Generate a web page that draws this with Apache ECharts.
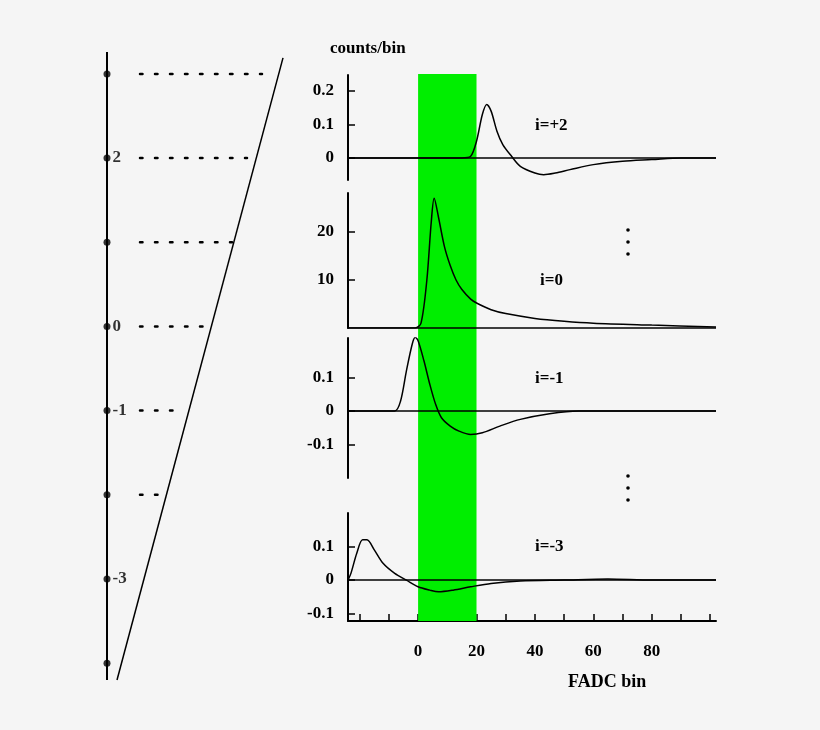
<!DOCTYPE html>
<html><head><meta charset="utf-8">
<script src="https://cdn.jsdelivr.net/npm/echarts@6/dist/echarts.min.js"></script>
<style>body{margin:0;background:#f5f5f5}#c{width:820px;height:730px}</style></head>
<body><div id="c"></div>
<script>
const pulseP2 = [[-25,0],[15,0],[18,0.005],[20,0.05],[22,0.13],[23.5,0.16],[25,0.14],[27,0.08],[29,0.04],[32,0.005],[35,-0.025],[40,-0.045],[43,-0.05],[47,-0.045],[52,-0.035],[60,-0.02],[70,-0.01],[80,-0.005],[90,0],[102,0]];
const pulse0 = [[-25,0],[-1,0],[1,1],[3,10],[4.5,22],[5.5,27],[7,23],[9,17],[11,13],[13,10],[15,8],[18,6],[20,5.2],[25,3.8],[30,3],[40,2],[50,1.4],[60,1],[80,0.6],[102,0.2]];
const pulseM1 = [[-25,0],[-8,0],[-6,0.03],[-4,0.12],[-2,0.2],[-1,0.22],[0,0.21],[2,0.15],[4,0.08],[6,0.02],[8,-0.02],[11,-0.045],[14,-0.06],[18,-0.07],[22,-0.065],[28,-0.045],[35,-0.025],[45,-0.008],[55,0],[102,0]];
const pulseM3 = [[-24,0],[-23,0.02],[-21,0.08],[-19,0.12],[-17.5,0.12],[-15,0.09],[-12,0.05],[-8,0.02],[-4,0],[0,-0.02],[4,-0.03],[7,-0.035],[12,-0.03],[18,-0.02],[25,-0.01],[35,-0.003],[50,0],[65,0.003],[80,0],[102,0]];
const xTickLabels = [0,20,40,60,80];
const xTicks = [-20,-10,0,10,20,30,40,50,60,70,80,90,100];
const window0 = [0,20];
const leftRows = [3,2,1,0,-1,-2,-3,-4];
const leftLabels = ['','2','','0','-1','','-3',''];
const dotEnds = [262,247,232,210,177,162,null,null];
const panelLabels = ['i=+2','i=0','i=-1','i=-3'];

const F = {fontFamily:'Liberation Serif',fontWeight:'bold',fontSize:17,color:'#000'};
const L = 348, W = 368;
const grids = [
  {left:L,width:W,top:75,height:105, ymin:-0.066,ymax:0.248, ticks:[0,0.1,0.2]},
  {left:L,width:W,top:193,height:135, ymin:0,ymax:28.1, ticks:[10,20]},
  {left:L,width:W,top:338,height:140, ymin:-0.2,ymax:0.218, ticks:[-0.1,0,0.1]},
  {left:L,width:W,top:513,height:108, ymin:-0.122,ymax:0.2, ticks:[-0.1,0,0.1]},
];
const data = [pulseP2,pulse0,pulseM1,pulseM3];
const opt = {backgroundColor:'#f5f5f5',animation:false,grid:[],xAxis:[],yAxis:[],series:[],graphic:[]};
// green band grid (index 0)
opt.grid.push({left:L,width:W,top:74,height:547});
opt.xAxis.push({gridIndex:0,type:'value',min:-24,max:102,show:false});
opt.yAxis.push({gridIndex:0,type:'value',min:0,max:1,show:false});
opt.series.push({type:'line',xAxisIndex:0,yAxisIndex:0,data:[],markArea:{silent:true,itemStyle:{color:'#00ee00',opacity:1},data:[[{xAxis:window0[0]},{xAxis:window0[1]}]]}});
grids.forEach((g,i)=>{
  const gi=i+1, last=i===3;
  opt.grid.push({left:g.left,width:g.width,top:g.top,height:g.height});
  opt.xAxis.push({gridIndex:gi,type:'value',min:-24,max:102,
    axisLine:{show:last,onZero:false,lineStyle:{color:'#000',width:2}},
    axisTick:{show:last,inside:true,length:7,customValues:xTicks,lineStyle:{color:'#000',width:1.5}},
    axisLabel:{show:last,customValues:xTickLabels,margin:22,...F},splitLine:{show:false}});
  opt.yAxis.push({gridIndex:gi,type:'value',min:g.ymin,max:g.ymax,
    axisLine:{show:true,onZero:false,lineStyle:{color:'#000',width:2}},
    axisTick:{show:true,inside:true,length:7,customValues:g.ticks,lineStyle:{color:'#000',width:1.5}},
    axisLabel:{customValues:g.ticks,margin:14,...F},splitLine:{show:false}});
  opt.series.push({type:'line',xAxisIndex:gi,yAxisIndex:gi,data:data[i],smooth:0.3,symbol:'none',
    lineStyle:{color:'#000',width:1.5},
    markLine:{silent:true,symbol:'none',label:{show:false},lineStyle:{color:'#000',width:1.5,type:'solid'},data:[{yAxis:0}]}});
});
// left diagram grid (index 5)
opt.grid.push({left:100,width:190,top:52,height:628});
opt.xAxis.push({gridIndex:5,type:'value',min:100,max:290,show:false});
opt.yAxis.push({gridIndex:5,type:'value',min:-4.2,max:3.26,show:false});
opt.series.push({type:'line',xAxisIndex:5,yAxisIndex:5,data:[[107,3.26],[107,-4.2]],symbol:'none',lineStyle:{color:'#000',width:2}});
opt.series.push({type:'line',xAxisIndex:5,yAxisIndex:5,data:[[283,3.19],[117,-4.2]],symbol:'none',lineStyle:{color:'#000',width:1.5}});
opt.series.push({type:'scatter',xAxisIndex:5,yAxisIndex:5,symbolSize:7,itemStyle:{color:'#000'},
  data:leftRows.map((r,k)=>({value:[107,r],label:{show:!!leftLabels[k],formatter:leftLabels[k],position:'right',distance:2,...F}}))});
leftRows.forEach((r,k)=>{ if(dotEnds[k]) opt.series.push({type:'line',xAxisIndex:5,yAxisIndex:5,data:[[140,r],[dotEnds[k],r]],symbol:'none',lineStyle:{color:'#000',width:2.5,type:[2.5,12.5],cap:'round'}}); });
opt.graphic = [
  {type:'text',left:330,top:40,style:{text:'counts/bin',font:'bold 17px Liberation Serif',fill:'#000'}},
  {type:'text',left:568,top:673,style:{text:'FADC bin',font:'bold 18px Liberation Serif',fill:'#000'}},
  {type:'text',left:535,top:117,style:{text:panelLabels[0],font:'bold 17px Liberation Serif',fill:'#000'}},
  {type:'text',left:540,top:272,style:{text:panelLabels[1],font:'bold 17px Liberation Serif',fill:'#000'}},
  {type:'text',left:535,top:370,style:{text:panelLabels[2],font:'bold 17px Liberation Serif',fill:'#000'}},
  {type:'text',left:535,top:538,style:{text:panelLabels[3],font:'bold 17px Liberation Serif',fill:'#000'}},
  ...[228,240,252,474,486,498].map(y=>({type:'circle',shape:{cx:628,cy:y+2,r:1.8},style:{fill:'#000'}}))
];
echarts.init(document.getElementById('c')).setOption(opt);
</script></body></html>
